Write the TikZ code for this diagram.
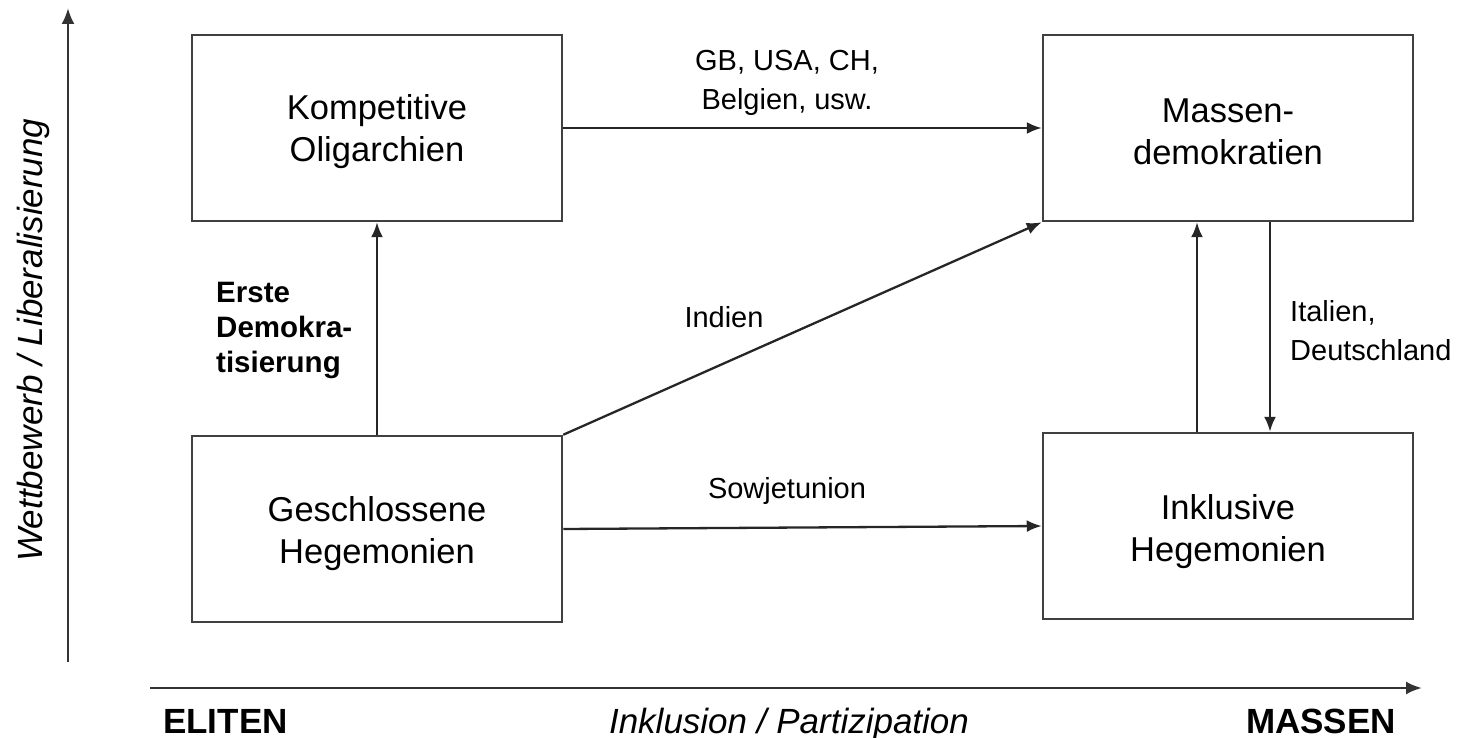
\documentclass[tikz,border=0pt]{standalone}
\usepackage{fontspec}
\setmainfont{Liberation Sans}
\usetikzlibrary{arrows.meta}
\begin{document}
\begin{tikzpicture}[x=1pt,y=-1pt,
  box/.style={draw=black!75,line width=2.5pt,minimum width=370pt,minimum height=186pt,inner sep=0pt},
  boxtext/.style={align=center,inner sep=0pt,font=\fontsize{34.5}{42}\selectfont},
  flow/.style={draw=black!85,line width=2.3pt,-{Latex[length=15pt,width=12pt]}},
  axis/.style={draw=black!80,line width=2.6pt,-{Latex[length=16pt,width=13pt]}},
  lbl/.style={font=\fontsize{29}{39}\selectfont,inner sep=0pt},
  axlbl/.style={font=\fontsize{35}{40}\selectfont,inner sep=0pt}]
\useasboundingbox (0,0) rectangle (1468,738);

% regime types
\node[box] (ko) at (377,128) {};
\node[box] (md) at (1228,128) {};
\node[box] (gh) at (377,529) {};
\node[box] (ih) at (1228,526) {};
\node[boxtext] (kot) at ([yshift=-4pt]ko.center) {Kompetitive\\Oligarchien};
\node[boxtext] (mdt) at ([yshift=-4pt]md.center) {Massen-\\demokratien};
\node[boxtext] (ght) at ([yshift=-5pt]gh.center) {Geschlossene\\Hegemonien};
\node[boxtext] (iht) at ([yshift=-6pt]ih.center) {Inklusive\\Hegemonien};

% transitions
\draw[flow] (ko.east) -- (md.west);
\draw[flow] (gh.north) -- (ko.south);
\draw[flow] (gh.north east) -- (md.south west);
\draw[flow] (gh.east) -- (ih.west);
\draw[flow] ([xshift=-31pt]ih.north) -- ([xshift=-31pt]md.south);
\draw[flow] ([xshift=42pt]md.south) -- ([xshift=42pt]ih.north);

% transition labels
\node[lbl,align=center] (l1) at (787,83) {GB, USA, CH,\\Belgien, usw.};
\node[lbl] (l2) at (724,317) {Indien};
\node[lbl] (l3) at (787,491) {Sowjetunion};
\node[lbl,align=left,anchor=west] (l4) at (1290,331) {Italien,\\Deutschland};
\node[lbl,align=left,anchor=west,font=\bfseries\fontsize{29.5}{35}\selectfont] (l5) at (216,330) {Erste\\Demokra-\\tisierung};

% axes
\coordinate (yb) at (68,662);
\coordinate (yt) at (68,8);
\coordinate (xl) at (150,688);
\coordinate (xr) at (1422,688);
\draw[axis] (yb) -- (yt);
\draw[axis] (xl) -- (xr);

\node[axlbl,rotate=90,font=\itshape\fontsize{35}{40}\selectfont] (ya) at (33,340) {Wettbewerb / Liberalisierung};
\node[axlbl,anchor=base west,font=\bfseries\fontsize{35}{40}\selectfont] (el) at (163,733) {ELITEN};
\node[axlbl,anchor=base,font=\itshape\fontsize{35}{40}\selectfont] (xa) at (789,733) {Inklusion / Partizipation};
\node[axlbl,anchor=base east,font=\bfseries\fontsize{35}{40}\selectfont] (ma) at (1396,733) {MASSEN};
\end{tikzpicture}
\end{document}
